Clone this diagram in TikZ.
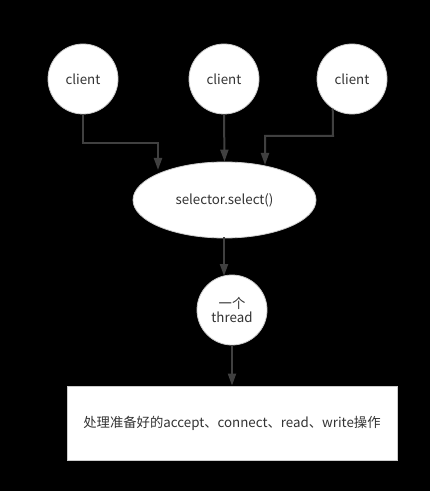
\documentclass[tikz,border=0pt]{standalone}
\usepackage{fontspec}
\setmainfont{Noto Sans CJK SC}
\usetikzlibrary{shapes.geometric,arrows.meta}
\begin{document}
\begin{tikzpicture}[x=0.75pt,y=-0.75pt,
  lbl/.style={font=\fontsize{10}{11.5}\selectfont,text=black!80},
  circ/.style={circle,fill=white,draw=black!20,line width=0.6pt,minimum size=70*0.75pt,inner sep=0pt,lbl},
  conn/.style={draw=black!75,line width=1.5pt,-{Triangle[length=9pt,width=6pt]}}]
\fill[black] (0,0) rectangle (430,491);
\useasboundingbox (0,0) rectangle (430,491);
\node[circ] (c1) at (83,79) {client};
\node[circ] (c2) at (224,79) {client};
\node[circ] (c3) at (352,79) {client};
\node[ellipse,fill=white,draw=black!20,line width=0.6pt,minimum width=183*0.75pt,minimum height=76*0.75pt,inner sep=0pt,lbl] (sel) at (224.5,200) {selector.select()};
\node[circ,align=center,font=\fontsize{10}{11}\selectfont] (th) at (232,310) {一个\\thread};
\node[rectangle,fill=white,draw=black!20,line width=0.6pt,minimum width=330*0.75pt,minimum height=74*0.75pt,inner sep=0pt,lbl] (box) at (232,423) {处理准备好的accept、connect、read、write操作};
\coordinate (a1) at (83,143);
\coordinate (a2) at (158,143);
\coordinate (e1) at (158,170);
\coordinate (b1) at (333,136);
\coordinate (b2) at (265,136);
\coordinate (e3) at (265,165);
\coordinate (s1) at (224,237);
\coordinate (e4) at (224,276);
\draw[conn] (c1.south) -- (a1) -- (a2) -- (e1);
\draw[conn] (c2.south) -- (sel.north);
\draw[conn] (c3.237) -- (b1) -- (b2) -- (e3);
\draw[conn] (s1) -- (e4);
\draw[conn] (th.south) -- (box.north);
\end{tikzpicture}
\end{document}
